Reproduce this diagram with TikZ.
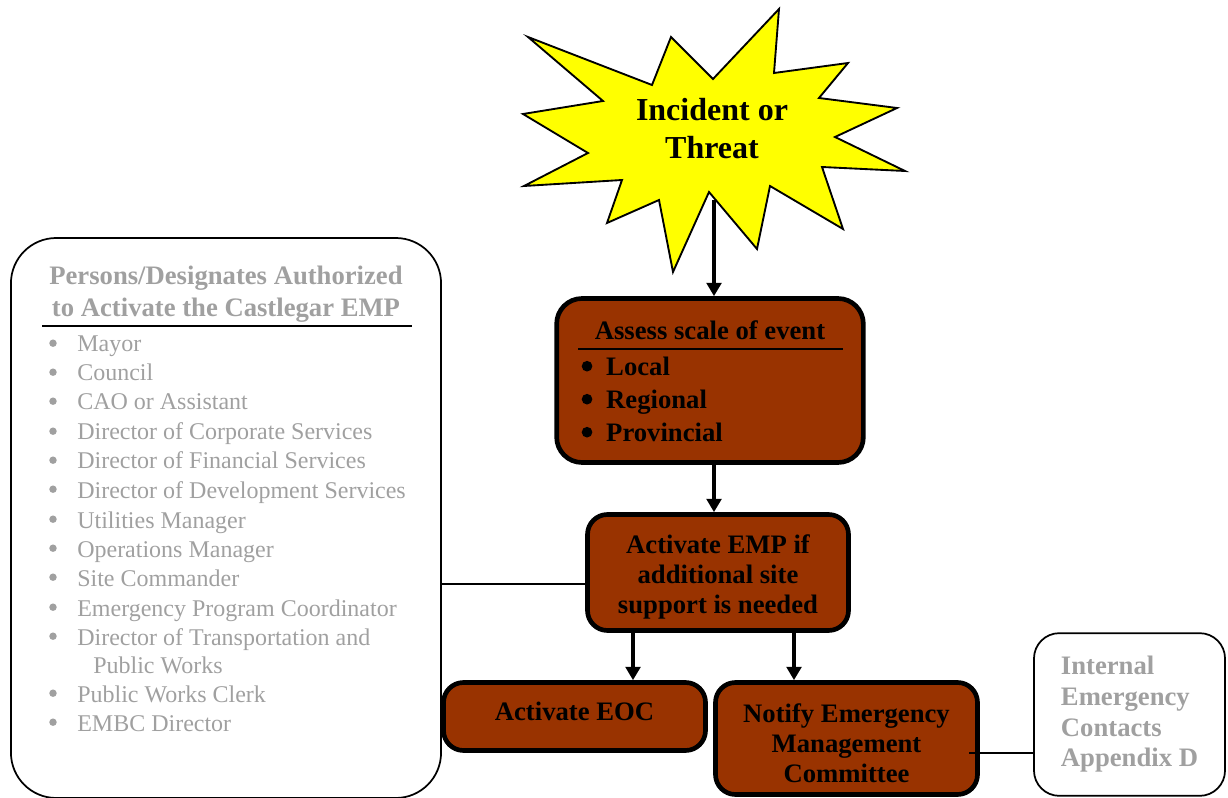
\documentclass[tikz,border=0pt]{standalone}
\usepackage{fontspec}
\setmainfont{Liberation Serif}
\usetikzlibrary{arrows.meta,calc}
\definecolor{rust}{HTML}{993300}
\definecolor{fade}{HTML}{A0A0A0}
\definecolor{burst}{HTML}{FFFF00}

\begin{document}
\begin{tikzpicture}[x=0.75pt,y=-0.75pt,
  stepbox/.style={draw=black, fill=rust, line width=3.5pt, rounded corners=15pt, inner sep=0pt},
  steptext/.style={align=center, inner sep=0pt, font=\fontsize{20}{22.5}\selectfont\bfseries},
  framebox/.style={draw=black, line width=1.3pt, inner sep=0pt},
  flow/.style={line width=3pt, -{Triangle[width=11pt,length=10pt]}},
  link/.style={line width=1.2pt},
  rule/.style={line width=1.5pt},
  listitem/.style={anchor=west, inner sep=0pt, text=fade, text height=12pt, text depth=0pt,
    font=\fontsize{18}{21.9}\selectfont},
  scaleitem/.style={anchor=west, inner sep=0pt, text height=13pt, text depth=0pt,
    font=\fontsize{20}{24}\selectfont\bfseries},
]
\useasboundingbox (0,0) rectangle (1228,798);

% the burst
\draw[fill=burst, line width=1.4pt, line join=miter]
  (528,37) -- (652,85) -- (671,37) -- (713,79) -- (779,9) -- (774,73) -- (848,63)
  -- (819,98) -- (897,108) -- (835,137) -- (905,171) -- (822,167) -- (843,229)
  -- (770,186) -- (757,249) -- (709,192) -- (673,272) -- (659,200) -- (607,223)
  -- (622,180) -- (524,186) -- (588,153) -- (523,114) -- (603,101) -- cycle;
\node[align=center, inner sep=0pt, font=\fontsize{24}{28.5}\selectfont\bfseries]
  (threat) at (712,129) {Incident or\\Threat};
\coordinate (starfoot) at (714,200);

% flow boxes
\node[stepbox, rounded corners=19pt, minimum width=230pt, minimum height=123pt]
  (assess) at (710,380.5) {};
\node[scaleitem, anchor=center] (assesstitle) at (710,331) {Assess scale of event};
\draw[rule] (578,349) -- (843,349);
\foreach \yy/\lvl [count=\i] in {367/Local, 400/Regional, 433/Provincial} {
  \node[scaleitem] (scale\i) at (582.5,\yy) {\hspace*{17.6pt}\lvl};
  \fill ([xshift=3.4pt,yshift=0.6pt]scale\i.west) circle (4pt);
}

\node[stepbox, minimum width=195.75pt, minimum height=87pt] (emp) at (718,572.5) {};
\node[steptext] (emptext) at (718,576.5) {Activate EMP if\\additional site\\support is needed};
\node[stepbox, minimum width=196.5pt, minimum height=51pt] (eoc) at (574.5,716.5) {};
\node[steptext] (eoctext) at (574.5,711.5) {Activate EOC};
\node[stepbox, minimum width=196.5pt, minimum height=84pt] (notify) at (846.5,738.5) {};
\node[steptext] (notifytext) at (846.5,743.5) {Notify Emergency\\Management\\Committee};

% side boxes
\node[framebox, rounded corners=34pt, minimum width=322.6pt, minimum height=420pt]
  (persons) at (226,518) {};
\node[align=center, inner sep=0pt, text=fade, font=\fontsize{20}{24}\selectfont\bfseries]
  (personshead) at (226,294) {Persons/Designates Authorized\\to Activate the Castlegar EMP};
\draw[rule] (42,326) -- (412,326);
\foreach \yy/\who [count=\i] in {344/Mayor, 373/Council, 402/CAO or Assistant,
    432/Director of Corporate Services, 461/Director of Financial Services,
    490/Director of Development Services, 520/Utilities Manager,
    549/Operations Manager, 578/Site Commander, 608/Emergency Program Coordinator,
    637/Director of Transportation and, 694/Public Works Clerk, 723/EMBC Director} {
  \node[listitem] (who\i) at (49,\yy) {\hspace*{21pt}\who};
  \fill[fade] ([xshift=3pt,yshift=0.6pt]who\i.west) circle (2.8pt);
}
\node[listitem] (whocont) at (93,665) {Public Works};

\node[framebox, rounded corners=19pt, minimum width=143.3pt, minimum height=122pt,
  align=left, text=fade, font=\fontsize{20}{23}\selectfont\bfseries]
  (contacts) at (1129.5,714.5) {Internal\\Emergency\\Contacts\\Appendix D};

% connectors
\draw[flow] (starfoot) -- (starfoot |- assess.north);
\draw[flow] (assess.south -| starfoot) -- (emp.north -| starfoot);
\coordinate (leftdrop) at ([xshift=-63.75pt]emp.south);
\coordinate (rightdrop) at ([xshift=57pt]emp.south);
\draw[flow] (leftdrop) -- (leftdrop |- eoc.north);
\draw[flow] (rightdrop) -- (rightdrop |- notify.north);
\coordinate (tap) at ([yshift=-8.6pt]emp.west);
\draw[link] (tap) -- (tap -| persons.east);
\coordinate (ntap) at ([xshift=-8pt,yshift=-10.9pt]notify.east);
\draw[link] (ntap) -- (ntap -| contacts.west);
\end{tikzpicture}
\end{document}
